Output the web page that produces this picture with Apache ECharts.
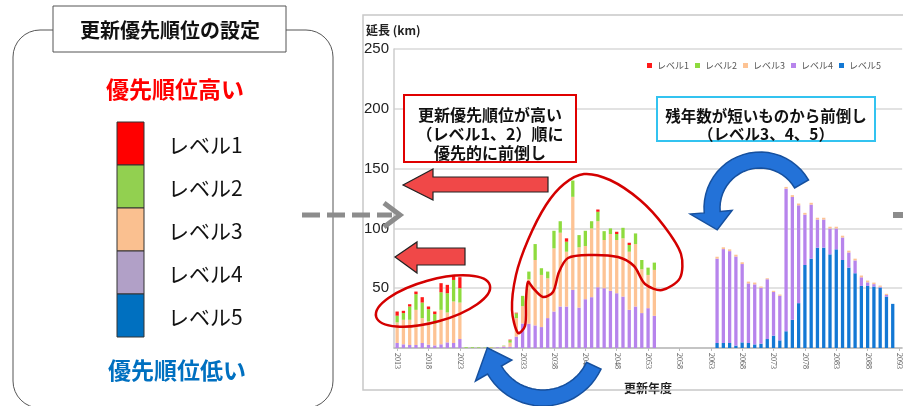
<!DOCTYPE html>
<html>
<head>
<meta charset="utf-8">
<script src="https://cdn.jsdelivr.net/npm/echarts@6/dist/echarts.min.js"></script>
<style>
  html, body { margin: 0; padding: 0; background: #fff; }
  #chart { width: 903px; height: 406px; }
</style>
</head>
<body>
<div id="chart"></div>
<script>
// 更新年度 2013〜2093
const years = []
for (let y = 2013; y <= 2093; y++) years.push(String(y))

// 延長(km) レベル別
const level1 = [
  3.5, 1.9, 1.9, 2.2, 4.5, 2.2, 2.2, 7.6, 7.0, 4.2,
  9.2, 0, 0, 0, 0, 0, 0, 0, 0.5, 0.5,
  0, 0, 0, 0, 0, 0, 0, 2.8, 0, 0,
  0, 0, 1.9, 0, 0, 1.9, 0, 1.9, 0, 0,
  0, 0, 0, 0, 0, 0, 0, 0, 0, 0,
  0, 0, 0, 0, 0, 0, 0, 0, 0, 0,
  0, 0, 0, 0, 0, 0, 0, 0, 0, 0,
  0, 0, 0, 0, 0, 0, 0, 0, 0, 0,
  0
]
const level2 = [
  5.6, 5.6, 11.1, 13.1, 13.0, 10.3, 8.0, 14.7, 16.1, 18.0,
  12.0, 0.6, 0.6, 0.5, 0.3, 0.3, 0, 0.3, 2.0, 4.0,
  8.6, 6.4, 13.3, 5.6, 5.6, 14.7, 9.6, 8.4, 13.6, 10.2,
  12.7, 6.0, 7.9, 7.4, 4.7, 5.0, 8.8, 5.6, 8.9, 7.8,
  6.1, 6.1, 0, 0, 0, 0, 0, 0, 0, 0,
  0, 0, 0, 0, 0, 0, 0, 0, 0, 0,
  0, 0, 0, 0, 0, 0, 0, 0, 0, 0,
  0, 0, 0, 0, 0, 0, 0, 0, 0, 0,
  0
]
const level3 = [
  17.2, 20.5, 21.1, 29.4, 20.8, 19.4, 18.1, 28.8, 25.0, 34.7,
  30.5, 0, 0, 0, 0, 0.5, 0, 0.5, 3.5, 15.5,
  14.5, 37.2, 54.7, 43.6, 33.3, 52.8, 61.7, 45.8, 77.8, 50.4,
  44.5, 57.5, 55.2, 40.3, 47.5, 44.5, 48.7, 48.6, 52.2, 36.6,
  27.8, 38.4, 0, 0, 0, 0, 0, 0, 0, 0,
  0, 1.6, 1.5, 1.5, 1.5, 1.5, 1.5, 1.5, 1.0, 0.8,
  1.0, 1.0, 1.5, 1.5, 1.5, 1.5, 1.5, 1.5, 1.5, 1.5,
  1.5, 1.5, 1.5, 1.5, 1.5, 1.5, 1.3, 1.0, 1.0, 0,
  0
]
const level4 = [
  4.2, 3.1, 2.5, 2.5, 4.2, 2.8, 2.2, 3.1, 4.7, 4.2,
  7.5, 0, 0, 0, 0, 0, 0.5, 1.2, 1.0, 9.5,
  20.5, 20.3, 18.9, 17.5, 25.0, 30.5, 34.7, 34.7, 48.6, 33.8,
  40.8, 42.5, 50.8, 50.0, 47.8, 45.8, 43.0, 31.9, 34.7, 29.2,
  33.3, 26.9, 0, 0, 0, 0, 0, 0, 0, 0,
  0, 70.5, 78.5, 76.8, 74.5, 65.5, 49.8, 50.2, 46.8, 50.0,
  36.5, 37.3, 119.2, 102.7, 81.8, 42.1, 45.2, 23.5, 23.5, 21.6,
  17.4, 18.8, 12.7, 10.7, 7.2, 3.0, 2.0, 0.7, 1.3, 0,
  0
]
const level5 = [
  0, 0, 0, 0, 0, 0, 0, 0, 0, 0,
  0, 0, 0, 0, 0, 0, 0, 0, 0, 0,
  0, 0, 0, 0, 0, 0, 0, 0, 0, 0,
  0, 0, 0, 0, 0, 0, 0, 0, 0, 0,
  0, 0, 0, 0, 0, 0, 0, 0, 0, 0,
  0, 4.2, 4.2, 4.2, 2.0, 4.7, 4.2, 3.0, 3.6, 7.5,
  10.3, 6.4, 14.0, 23.6, 37.5, 69.4, 74.7, 83.9, 83.9, 78.3,
  82.5, 73.6, 67.2, 62.5, 51.9, 51.9, 51.4, 50.5, 43.0, 36.9,
  0
]

const levelNames = ['レベル1', 'レベル2', 'レベル3', 'レベル4', 'レベル5']
const barColors = ['#FF1A1A', '#8EDB3E', '#FDC394', '#B784EC', '#1378D4']
const boxColors = ['#FF0000', '#92D050', '#FAC090', '#B1A0C7', '#0070C0']

const JP = '"Noto Sans CJK JP", sans-serif'

const chart = echarts.init(document.getElementById('chart'))

// 曲がった矢印の輪郭（角度は度、数学座標）
function arcArrow(cx, cy, r1, r2, a0, a1, tipDeg) {
  const pt = (r, a) => {
    const t = (a * Math.PI) / 180
    return [cx + r * Math.cos(t), cy - r * Math.sin(t)]
  }
  const pts = []
  const n = 24
  for (let k = 0; k <= n; k++) pts.push(pt(r2, a0 + ((a1 - a0) * k) / n))
  const mid = (r1 + r2) / 2
  pts.push(pt(r2 + 14, a1))
  pts.push(pt(mid, a1 + tipDeg))
  pts.push(pt(r1 - 12, a1))
  for (let k = n; k >= 0; k--) pts.push(pt(r1, a0 + ((a1 - a0) * k) / n))
  return pts
}

// 左側：更新優先順位の設定
const leftPanel = [
  {
    type: 'rect', z: 100,
    shape: { x: 13, y: 30, width: 320, height: 378, r: 27 },
    style: { fill: 'none', stroke: '#555', lineWidth: 1 },
  },
  {
    type: 'rect', z: 101,
    shape: { x: 53, y: 6, width: 233, height: 46 },
    style: { fill: '#fff', stroke: '#555', lineWidth: 1 },
  },
  {
    type: 'text', z: 102, x: 170, y: 30,
    style: { text: '更新優先順位の設定', font: 'bold 20px ' + JP, fill: '#111', textAlign: 'center', textVerticalAlign: 'middle' },
  },
  {
    type: 'text', z: 102, x: 175, y: 89,
    style: { text: '優先順位高い', font: 'bold 23px ' + JP, fill: '#FF0000', textAlign: 'center', textVerticalAlign: 'middle' },
  },
  {
    type: 'text', z: 102, x: 177, y: 370,
    style: { text: '優先順位低い', font: 'bold 23px ' + JP, fill: '#0070C0', textAlign: 'center', textVerticalAlign: 'middle' },
  },
]
levelNames.forEach((name, i) => {
  leftPanel.push({
    type: 'rect', z: 101,
    shape: { x: 117, y: 122 + i * 43, width: 27, height: 43 },
    style: { fill: boxColors[i], stroke: '#333', lineWidth: 1 },
  })
  leftPanel.push({
    type: 'text', z: 102, x: 168, y: 145 + i * 43,
    style: { text: name, font: '21px ' + JP, fill: '#111', textVerticalAlign: 'middle' },
  })
})

// 注釈（矢印・囲み）
const notes = [
  // グラフ枠
  {
    type: 'rect', z: 1,
    shape: { x: 363, y: 15, width: 600, height: 375 },
    style: { fill: 'none', stroke: '#c8c8c8', lineWidth: 1.5 },
  },
  {
    type: 'text', z: 102, x: 366, y: 30,
    style: { text: '延長 (km)', font: 'bold 12px ' + JP, fill: '#222', textVerticalAlign: 'middle' },
  },
  // 灰色の破線矢印
  {
    type: 'line', z: 100,
    shape: { x1: 302, y1: 215, x2: 392, y2: 215 },
    style: { stroke: '#8c8c8c', lineWidth: 5, lineDash: [18, 7] },
  },
  {
    type: 'polyline', z: 100,
    shape: { points: [[384, 203], [400, 215], [384, 227]] },
    style: { stroke: '#8c8c8c', lineWidth: 5, fill: 'none' },
  },
  {
    type: 'rect', z: 100,
    shape: { x: 893, y: 212, width: 12, height: 6 },
    style: { fill: '#8c8c8c' },
  },
  // 赤矢印
  {
    type: 'polygon', z: 100,
    shape: { points: [[403, 185], [433, 169], [433, 177], [548, 177], [548, 192], [433, 192], [433, 200]] },
    style: { fill: '#F04848', stroke: '#222', lineWidth: 1.2 },
  },
  {
    type: 'polygon', z: 100,
    shape: { points: [[395, 257], [417, 242], [417, 248], [465, 248], [465, 265], [417, 265], [417, 273]] },
    style: { fill: '#F04848', stroke: '#222', lineWidth: 1.2 },
  },
  // 赤い囲み
  {
    type: 'ellipse', z: 100, x: 433, y: 301, rotation: 0.27,
    shape: { cx: 0, cy: 0, rx: 59, ry: 21 },
    style: { fill: 'none', stroke: '#D40000', lineWidth: 2.5 },
  },
  {
    type: 'polygon', z: 100,
    shape: {
      smooth: 0.3,
      points: [
        [518, 333], [512, 310], [516, 275], [528, 240], [546, 205], [564, 184], [584, 174],
        [610, 180], [640, 200], [664, 226], [681, 254], [680, 278], [662, 290], [645, 284],
        [634, 266], [618, 257], [590, 255], [568, 258], [559, 272], [553, 292], [543, 297],
        [533, 288], [528, 282], [526, 300], [525, 326],
      ],
    },
    style: { fill: 'none', stroke: '#D40000', lineWidth: 2.5 },
  },
  // 青い曲がり矢印
  {
    type: 'polygon', z: 100,
    shape: { points: arcArrow(760, 208, 40, 56, 30, 185, 22) },
    style: { fill: '#2372D8', stroke: '#16509E', lineWidth: 1.5 },
  },
  {
    type: 'polygon', z: 100,
    shape: { points: arcArrow(543, 342, 48, 64, -25, -150, -24) },
    style: { fill: '#2372D8', stroke: '#16509E', lineWidth: 1.5 },
  },
  // 説明ボックス
  {
    type: 'rect', z: 100,
    shape: { x: 404, y: 95, width: 172, height: 67 },
    style: { fill: '#fff', stroke: '#E00000', lineWidth: 2 },
  },
  {
    type: 'text', z: 101, x: 490, y: 134,
    style: {
      text: '更新優先順位が高い\n（レベル1、2）順に\n優先的に前倒し',
      font: 'bold 16px ' + JP, lineHeight: 19, fill: '#111', textAlign: 'center', textVerticalAlign: 'middle',
    },
  },
  {
    type: 'rect', z: 100,
    shape: { x: 657, y: 97, width: 218, height: 44 },
    style: { fill: '#fff', stroke: '#33C3F0', lineWidth: 2 },
  },
  {
    type: 'text', z: 101, x: 766, y: 125,
    style: {
      text: '残年数が短いものから前倒し\n（レベル3、4、5）',
      font: 'bold 15.5px ' + JP, lineHeight: 18, fill: '#111', textAlign: 'center', textVerticalAlign: 'middle',
    },
  },
]

const levels = [level1, level2, level3, level4, level5]
// 下からレベル5→レベル1の順に積み上げ
const series = [4, 3, 2, 1, 0].map((i) => ({
  name: levelNames[i],
  type: 'bar',
  stack: 'total',
  barWidth: 3.3,
  itemStyle: { color: barColors[i] },
  data: levels[i],
}))

const option = {
  animation: false,
  textStyle: { fontFamily: JP },
  legend: {
    data: levelNames,
    left: 642,
    top: 56,
    icon: 'rect',
    itemWidth: 5,
    itemHeight: 5,
    itemGap: 6,
    textStyle: { fontSize: 9, color: '#555' },
  },
  grid: {
    left: 394,
    right: 0,
    top: 49,
    bottom: 58,
  },
  xAxis: {
    type: 'category',
    data: years,
    name: '更新年度',
    nameLocation: 'middle',
    nameGap: 34,
    nameTextStyle: { fontSize: 12, fontWeight: 'bold', color: '#222' },
    axisLine: { lineStyle: { color: '#bbb', width: 1.5 } },
    axisTick: { show: true, interval: 4, alignWithLabel: true, length: 3, lineStyle: { color: '#bbb' } },
    axisLabel: { interval: 4, rotate: -90, fontSize: 8, color: '#555', margin: 5, fontFamily: 'Liberation Serif' },
  },
  yAxis: {
    type: 'value',
    min: 0,
    max: 250,
    interval: 50,
    axisLine: { show: true, lineStyle: { color: '#ccc', width: 1.5 } },
    splitLine: { lineStyle: { color: '#d8d8d8', width: 1.5 } },
    axisLabel: {
      fontSize: 15,
      color: '#222',
      margin: 5,
      fontFamily: 'Liberation Sans Narrow, Liberation Sans',
      formatter: (v) => (v === 0 ? '' : v),
    },
  },
  graphic: leftPanel.concat(notes),
  series,
}

chart.setOption(option)
</script>
</body>
</html>
